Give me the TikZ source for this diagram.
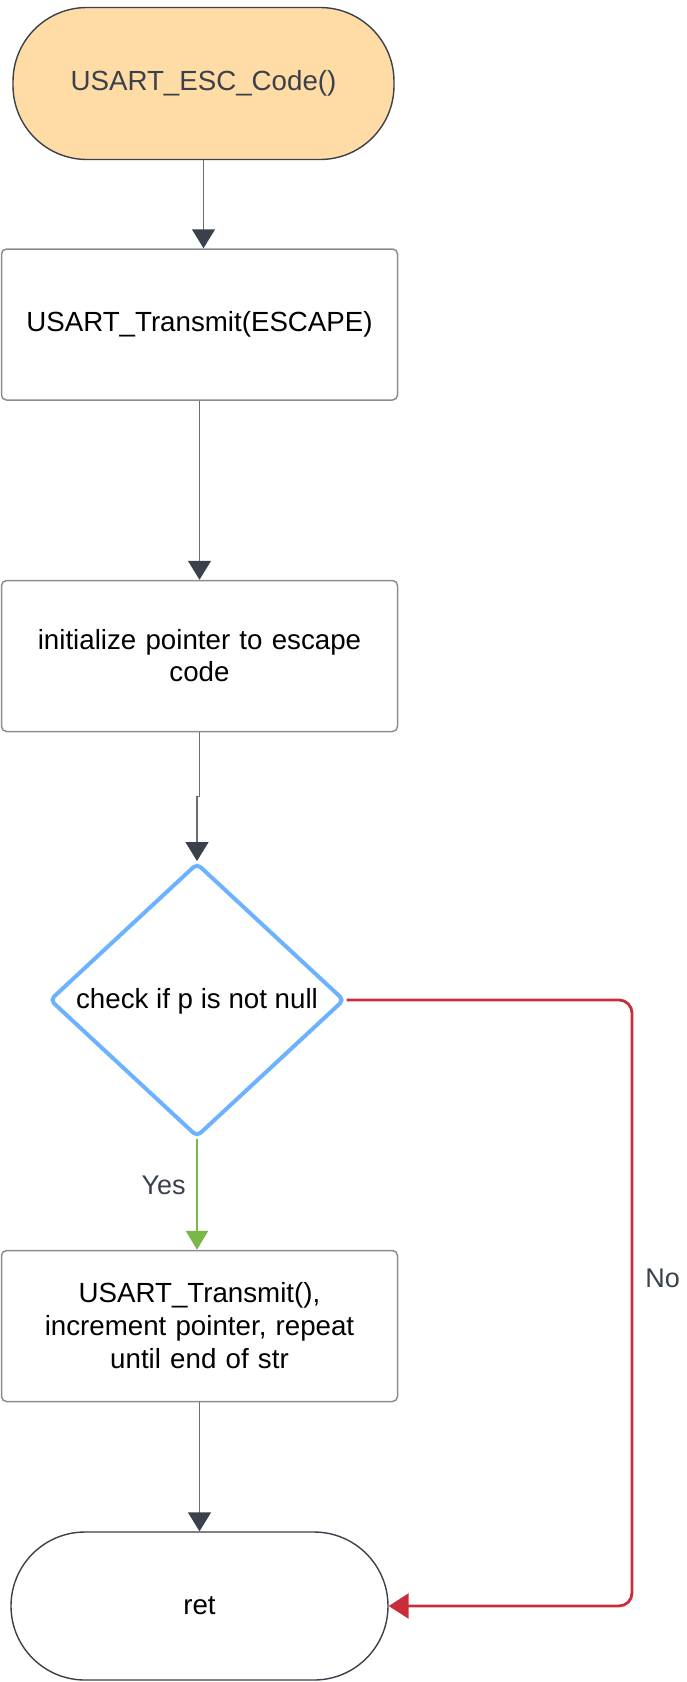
\documentclass[tikz,border=0pt]{standalone}
\usepackage{fontspec}
\setmainfont{Liberation Sans}
\usetikzlibrary{arrows.meta,shapes.geometric,calc}

\definecolor{startfill}{HTML}{FFDCA6}
\definecolor{edgegrey}{HTML}{3A414A}
\definecolor{linegrey}{HTML}{6A6E74}
\definecolor{boxgrey}{HTML}{8A8C90}
\definecolor{decblue}{HTML}{6DB2FF}
\definecolor{yesgreen}{HTML}{7AB648}
\definecolor{nored}{HTML}{C92D39}

\tikzset{
  x=1pt, y=-1pt,
  every node/.style={font=\fontsize{27.7}{33}\selectfont, align=center},
  terminal/.style={draw=edgegrey, line width=1.4pt, rectangle, rounded corners=74pt,
    inner sep=0pt},
  stepbox/.style={draw=boxgrey, line width=1.5pt, rectangle, rounded corners=5pt,
    minimum width=396pt, minimum height=151pt, inner sep=0pt, text width=370pt},
  decision/.style={draw=decblue, line width=4pt, diamond, rounded corners=5pt,
    minimum width=295pt, minimum height=274pt, inner sep=0pt},
  flow/.style={draw=linegrey, line width=1.5pt,
    -{Triangle[width=23pt,length=19pt,fill=edgegrey,color=edgegrey]}},
  yesflow/.style={draw=yesgreen, line width=2.6pt,
    -{Triangle[width=22pt,length=19pt,fill=yesgreen,color=yesgreen]}},
  noflow/.style={draw=nored, line width=2.8pt, rounded corners=13pt,
    -{Triangle[width=25pt,length=20pt,fill=nored,color=nored]}},
  edgelabel/.style={font=\fontsize{27}{32}\selectfont, text=edgegrey, inner sep=0pt}
}

\begin{document}
\begin{tikzpicture}
  \useasboundingbox (0,0) rectangle (686,1682);

  % nodes of the flow
  \node[terminal, fill=startfill, minimum width=381pt, minimum height=152pt,
        text=edgegrey] (start) at (203.5,83.5) {USART\_ESC\_Code()};
  \node[stepbox] (tx) at (199.5,324.5) {USART\_Transmit(ESCAPE)};
  \node[stepbox] (init) at (199.5,656) {initialize pointer to escape\\[-1pt]code\\[4pt]};
  \node[decision] (chk) at (197,1000) {};
  \node (chktext) at (197,1001) {check if p is not null};
  \node[stepbox] (loop) at (199.5,1326) {USART\_Transmit(),\\increment pointer, repeat\\until end of str};
  \node[terminal, minimum width=377pt, minimum height=148pt] (ret) at (199.5,1606) {ret};

  \coordinate (nocol) at (632,0);

  % connectors
  \draw[flow] (start.south) -- (start.south |- tx.north);
  \draw[flow] (tx.south) -- (init.north);
  \draw[flow] (init.south) |- ($(init.south)!0.5!(chk.north)$) -| (chk.north);
  \draw[yesflow] (chk.south) -- node[edgelabel, pos=0.42, anchor=east, xshift=-10pt] {Yes}
        (chk.south |- loop.north);
  \draw[flow] (loop.south) -- (ret.north);
  \draw[noflow] (chk.east) -- (chk.east -| nocol)
        -- node[edgelabel, pos=0.46, anchor=west, xshift=12pt] {No} (ret.east -| nocol)
        -- (ret.east);
\end{tikzpicture}
\end{document}
